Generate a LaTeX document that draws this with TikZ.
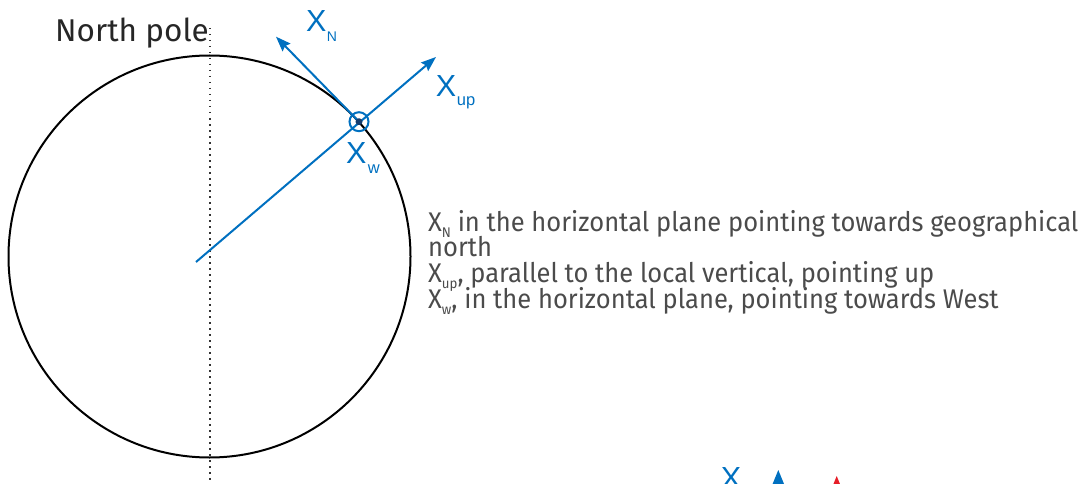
\documentclass[tikz,border=0pt]{standalone}
\usepackage{fontspec}
\setmainfont{Fira Sans}
\newfontfamily\descfont[FakeStretch=0.945]{Fira Sans}
\newfontfamily\lblfont{Liberation Sans}
\usetikzlibrary{arrows.meta}
\definecolor{axisblue}{RGB}{0,112,192}
\definecolor{dotblue}{RGB}{20,60,110}
\definecolor{txtgray}{RGB}{75,75,75}
\definecolor{markred}{RGB}{230,30,40}
\tikzset{
  vec/.style={axisblue, line width=2pt, -{Stealth[length=15pt,width=11pt,inset=2pt]}},
  lbl/.style={inner sep=0pt, anchor=base west, text=axisblue, font=\lblfont\fontsize{30.5}{30}\selectfont},
  sub/.style={inner sep=0pt, anchor=base west, text=axisblue, font=\lblfont\fontsize{16.5}{16}\selectfont},
  desc/.style={inner sep=0pt, anchor=base west, text=txtgray, font=\descfont\fontsize{27}{27}\selectfont},
}
\begin{document}
\begin{tikzpicture}[x=1pt,y=-1pt]
\useasboundingbox (0,0) rectangle (1083,484);
% earth
\node[draw, circle, line width=2pt, minimum size=402pt, inner sep=0pt] (earth) at (209.5,256.5) {};
% polar axis
\coordinate (pt) at (210,28);
\coordinate (pb) at (210,490);
\draw[line width=1.5pt, dash pattern=on 1.5pt off 4.5pt, black!80] (pt) -- (pb);
\node[inner sep=0pt, anchor=base west, text=black!85, font=\fontsize{31.5}{31}\selectfont] (np) at (55,42) {North pole};
% vectors
\coordinate (o) at (196,262);
\coordinate (p) at (359,121.7);
\coordinate (up) at (436,57);
\coordinate (n) at (276,36.7);
\draw[vec] (o) -- (up);
\draw[vec] (p) -- (n);
\draw[axisblue, line width=2pt] (p) circle[radius=9.5];
\fill[dotblue] (p) circle[radius=3.5];
% labels
\node[lbl] (xn) at (306,31.7) {X};
\node[sub, font=\lblfont\fontsize{14}{14}\selectfont] (xns) at (326.7,41.7) {N};
\node[lbl] (xu) at (435.7,96.7) {X};
\node[sub] (xus) at (456.7,106) {up};
\node[lbl] (xw) at (346,163.3) {X};
\node[sub] (xws) at (367.7,173.3) {w};
% description
\node[desc] (d1) at (428,231) {X\raisebox{-6pt}{\fontsize{14}{14}\selectfont N} in the horizontal plane pointing towards geographical};
\node[desc] (d2) at (428,256.5) {north};
\node[desc] (d3) at (428,282) {X\raisebox{-6pt}{\fontsize{14}{14}\selectfont up}, parallel to the local vertical, pointing up};
\node[desc] (d4) at (428,308.5) {X\raisebox{-6pt}{\fontsize{14}{14}\selectfont w}, in the horizontal plane, pointing towards West};
% clipped marks at bottom
\begin{scope}
\clip (0,0) rectangle (1083,484);
\node[inner sep=0pt, anchor=north, text=axisblue, font=\lblfont\fontsize{30.5}{30}\selectfont] (bx) at (731,467) {X};
\coordinate (bt) at (778.3,470);
\fill[axisblue] (bt) -- ++(-9,22) -- ++(18,0) -- cycle;
\coordinate (rt) at (836.7,476);
\fill[markred] (rt) -- ++(-9,22) -- ++(18,0) -- cycle;
\end{scope}
\end{tikzpicture}
\end{document}
